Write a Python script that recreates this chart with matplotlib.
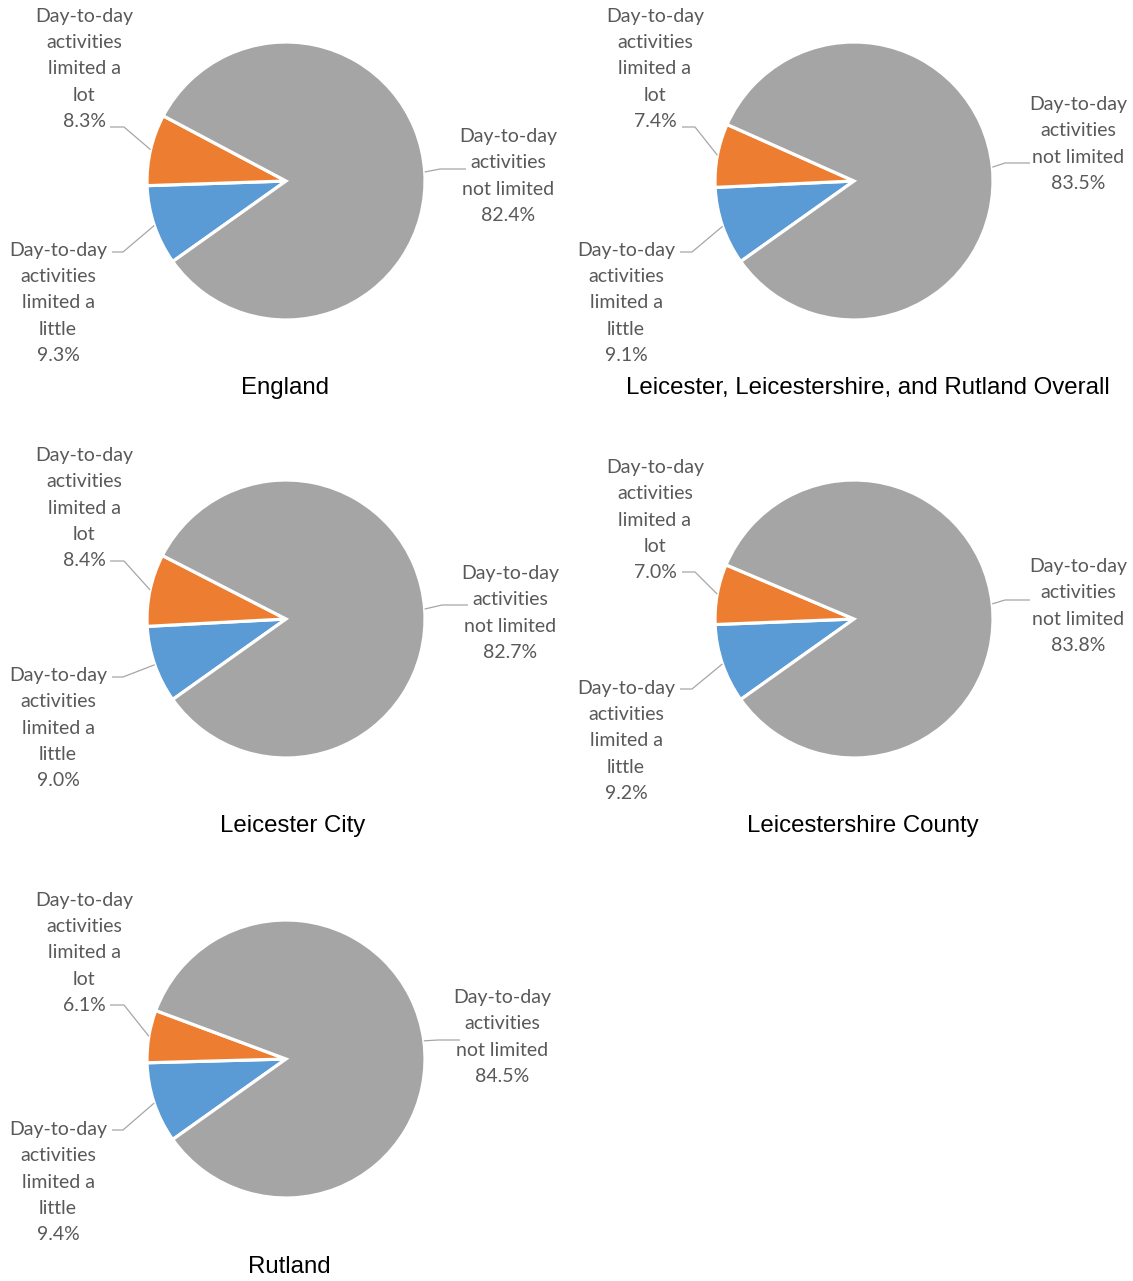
import numpy as np
import matplotlib
matplotlib.use("Agg")
import matplotlib.pyplot as plt

W, H = 1133, 1281

# regions and values (%), order: limited a little, limited a lot, not limited
regions = ["England", "Leicester, Leicestershire, and Rutland Overall",
           "Leicester City", "Leicestershire County", "Rutland"]
limited_little = [9.3, 9.1, 9.0, 9.2, 9.4]
limited_lot = [8.3, 7.4, 8.4, 7.0, 6.1]
not_limited = [82.4, 83.5, 82.7, 83.8, 84.5]

cat_labels = ["Day-to-day\nactivities\nlimited a\nlittle",
              "Day-to-day\nactivities\nlimited a\nlot",
              "Day-to-day\nactivities\nnot limited"]
colors = ["#5B9BD5", "#ED7D31", "#A5A5A5"]

# layout in pixels (top-left origin)
centers = [(286, 181), (854, 181), (286, 619), (854, 619), (286, 1059)]
radius = 139
title_pos = [(285, 388), (868, 388), (293, 826), (863, 826), (289, 1267)]
# text centre for (little, lot, not limited)
label_pos = [
    [(58, 303), (84, 69), (508, 176)],
    [(626, 303), (655, 69), (1078, 144)],
    [(58, 728), (84, 508), (510, 613)],
    [(626, 741), (655, 520), (1078, 606)],
    [(58, 1182), (84, 953), (502, 1037)],
]
# leader line end near the text and elbow
leader_end = [
    [(112, 252, 123), (110, 127, 124), (466, 169, 440)],
    [(680, 252, 692), (682, 127, 695), (1030, 163, 1005)],
    [(112, 677, 123), (110, 561, 124), (468, 605, 442)],
    [(680, 689, 692), (682, 572, 695), (1030, 600, 1005)],
    [(112, 1130, 123), (110, 1005, 124), (460, 1040, 438)],
]

START = 215.4
TEXT = "#595959"


def fy(y):
    return H - y


fig = plt.figure(figsize=(W / 100, H / 100), dpi=100)
ax = fig.add_axes([0, 0, 1, 1])

for i, name in enumerate(regions):
    vals = [limited_little[i], limited_lot[i], not_limited[i]]
    cx, cy = centers[i]
    wedges, _ = ax.pie(vals, colors=colors, startangle=START, counterclock=False,
                       center=(cx, fy(cy)), radius=radius, frame=True,
                       wedgeprops=dict(edgecolor="white", linewidth=2.3))
    for j, w in enumerate(wedges):
        mid = np.deg2rad((w.theta1 + w.theta2) / 2)
        ex = cx + radius * np.cos(mid)
        ey = fy(cy) + radius * np.sin(mid)
        lx, ly, elx = leader_end[i][j]
        ax.plot([ex, elx, lx], [ey, fy(ly), fy(ly)], color="#A6A6A6", lw=0.9,
                solid_capstyle="butt", zorder=1)
        tx, ty = label_pos[i][j]
        ax.text(tx, fy(ty), f"{cat_labels[j]}\n{vals[j]:.1f}%", ha="center", va="center",
                fontsize=14, family="Lato", color=TEXT, linespacing=1.66)
    ax.text(title_pos[i][0], fy(title_pos[i][1]), name, ha="center", va="center",
            fontsize=17.3, family="Liberation Sans", color="black")

ax.set_xlim(0, W)
ax.set_ylim(0, H)
ax.set_aspect("equal")
ax.axis("off")

fig.savefig("out.png", dpi=100)
